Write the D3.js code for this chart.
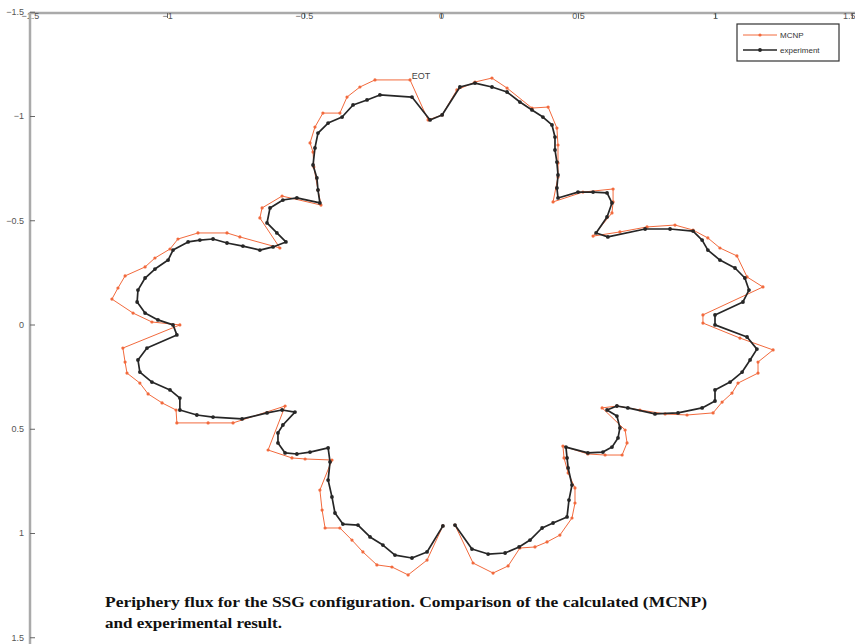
<!DOCTYPE html>
<html>
<head>
<meta charset="utf-8">
<script src="https://cdn.jsdelivr.net/npm/d3@7"></script>
<style>
  body { margin: 0; background: #fff; }
  svg { display: block; }
  .tick text { font-family: "Liberation Sans", Arial, sans-serif; font-size: 9px; fill: #555; }
</style>
</head>
<body>
<svg width="855" height="644"></svg>
<script>
// tick values and series names
var xTicks = [-1.5, -1, -0.5, 0, 0.5, 1, 1.5];
var yTicks = [-1.5, -1, -0.5, 0, 0.5, 1, 1.5];
var seriesNames = ["MCNP", "experiment"];

// MCNP (calculated) periphery flux
var mcnpX = [0.051, 0.117, 0.190, 0.245, 0.288, 0.343, 0.387, 0.434, 0.478, 0.489,
  0.489, 0.464, 0.449, 0.445, 0.536, 0.599, 0.661, 0.679, 0.672, 0.588,
  0.642, 0.726, 0.818, 0.898, 0.993, 1.026, 1.062, 1.084, 1.157, 1.157,
  1.212, 1.091, 0.956, 0.956, 1.175, 1.117, 1.080, 1.018, 0.974, 0.920,
  0.854, 0.752, 0.653, 0.555, 0.624, 0.628, 0.628, 0.518, 0.409, 0.427,
  0.427, 0.427, 0.423, 0.391, 0.332, 0.241, 0.186, 0.124, 0.058, 0.004,
  -0.047, -0.113, -0.241, -0.296, -0.343, -0.369, -0.431, -0.460, -0.478, -0.467,
  -0.464, -0.449, -0.438, -0.580, -0.653, -0.661, -0.588, -0.734, -0.781, -0.887,
  -0.960, -0.989, -1.044, -1.080, -1.153, -1.179, -1.201, -1.124, -1.055, -0.953,
  -1.161, -1.153, -1.146, -1.099, -1.069, -1.018, -0.967, -0.964, -0.850, -0.759,
  -0.569, -0.631, -0.544, -0.496, -0.398, -0.442, -0.434, -0.423, -0.369, -0.325,
  -0.285, -0.234, -0.179, -0.120, -0.051, 0.007];
var mcnpY = [0.962, 1.144, 1.192, 1.158, 1.072, 1.067, 1.043, 1.010, 0.928, 0.856,
  0.784, 0.712, 0.640, 0.583, 0.621, 0.626, 0.626, 0.568, 0.506, 0.400,
  0.391, 0.410, 0.429, 0.434, 0.424, 0.372, 0.329, 0.281, 0.233, 0.180,
  0.122, 0.065, -0.007, -0.046, -0.180, -0.228, -0.329, -0.367, -0.415, -0.453,
  -0.477, -0.468, -0.444, -0.424, -0.535, -0.588, -0.650, -0.635, -0.588, -0.707,
  -0.775, -0.861, -0.942, -1.043, -1.038, -1.134, -1.182, -1.163, -1.125, -1.005,
  -0.981, -1.173, -1.173, -1.139, -1.091, -1.014, -1.014, -0.947, -0.871, -0.827,
  -0.755, -0.645, -0.573, -0.616, -0.559, -0.511, -0.367, -0.420, -0.439, -0.439,
  -0.410, -0.362, -0.319, -0.276, -0.233, -0.175, -0.122, -0.055, -0.012, 0.002,
  0.113, 0.180, 0.233, 0.281, 0.333, 0.376, 0.410, 0.472, 0.472, 0.472,
  0.391, 0.602, 0.640, 0.645, 0.650, 0.794, 0.890, 0.976, 0.976, 1.034,
  1.091, 1.153, 1.163, 1.201, 1.130, 0.966];

// experiment
var expX = [0.051, 0.113, 0.172, 0.234, 0.285, 0.325, 0.369, 0.409, 0.460, 0.467,
  0.478, 0.464, 0.460, 0.456, 0.536, 0.591, 0.624, 0.646, 0.653, 0.642,
  0.606, 0.642, 0.682, 0.781, 0.865, 0.953, 1.000, 1.000, 1.055, 1.099,
  1.128, 1.153, 1.117, 1.000, 1.000, 1.102, 1.124, 1.109, 1.073, 1.018,
  0.974, 0.953, 0.920, 0.836, 0.745, 0.609, 0.566, 0.606, 0.624, 0.606,
  0.555, 0.500, 0.427, 0.423, 0.427, 0.423, 0.416, 0.416, 0.405, 0.372,
  0.332, 0.288, 0.241, 0.186, 0.124, 0.069, 0.004, -0.040, -0.106, -0.223,
  -0.270, -0.321, -0.361, -0.412, -0.449, -0.460, -0.467, -0.453, -0.449, -0.442,
  -0.526, -0.577, -0.624, -0.635, -0.599, -0.566, -0.613, -0.661, -0.723, -0.781,
  -0.832, -0.880, -0.923, -0.978, -0.996, -1.044, -1.080, -1.106, -1.109, -1.080,
  -1.033, -0.978, -0.964, -1.073, -1.106, -1.099, -1.055, -0.989, -0.953, -0.953,
  -0.891, -0.832, -0.726, -0.635, -0.580, -0.533, -0.577, -0.595, -0.595, -0.569,
  -0.526, -0.478, -0.412, -0.405, -0.412, -0.398, -0.387, -0.358, -0.303, -0.259,
  -0.212, -0.168, -0.106, -0.051, 0.007];
var expY = [0.962, 1.077, 1.101, 1.096, 1.067, 1.034, 0.976, 0.952, 0.923, 0.842,
  0.770, 0.688, 0.640, 0.588, 0.616, 0.612, 0.588, 0.544, 0.496, 0.439,
  0.410, 0.391, 0.400, 0.429, 0.424, 0.400, 0.367, 0.314, 0.276, 0.228,
  0.170, 0.118, 0.060, 0.002, -0.046, -0.108, -0.165, -0.223, -0.271, -0.309,
  -0.357, -0.405, -0.448, -0.458, -0.458, -0.420, -0.439, -0.516, -0.583, -0.631,
  -0.635, -0.635, -0.607, -0.655, -0.717, -0.779, -0.837, -0.899, -0.957, -0.995,
  -1.029, -1.067, -1.115, -1.139, -1.158, -1.139, -1.005, -0.981, -1.091, -1.101,
  -1.077, -1.053, -0.995, -0.966, -0.918, -0.847, -0.765, -0.703, -0.645, -0.583,
  -0.607, -0.597, -0.559, -0.487, -0.439, -0.396, -0.372, -0.357, -0.376, -0.391,
  -0.410, -0.405, -0.396, -0.357, -0.309, -0.266, -0.223, -0.165, -0.108, -0.055,
  -0.022, 0.002, 0.050, 0.113, 0.170, 0.228, 0.276, 0.314, 0.353, 0.410,
  0.434, 0.444, 0.453, 0.424, 0.410, 0.420, 0.482, 0.520, 0.568, 0.616,
  0.621, 0.612, 0.592, 0.659, 0.746, 0.827, 0.904, 0.957, 0.962, 1.019,
  1.058, 1.106, 1.120, 1.091, 0.966];

var svg = d3.select("svg");

var x = d3.scaleLinear().domain([-1.5, 1.5]).range([30, 852]);
var y = d3.scaleLinear().domain([-1.5, 1.5]).range([11.75, 637.25]); // reversed: -1.5 on top

var orange = "#f26a3d", dark = "#262626";

// axes (MATLAB style, inner ticks, top + left)
var xAxis = svg.append("g")
  .attr("transform", "translate(0,13)")
  .call(d3.axisTop(x).tickValues(xTicks).tickSizeInner(-5).tickSizeOuter(0)
    .tickFormat(function(d) { return d3.format("")(d); }));
xAxis.select(".domain").attr("stroke", "#aaa").attr("stroke-width", 2.5).attr("d", "M30,0H855");
xAxis.selectAll(".tick line").attr("stroke", "#666");
xAxis.selectAll(".tick text").attr("y", 3).attr("dy", "0.32em")
  .attr("text-anchor", function(d) { return d === 1.5 ? "end" : "middle"; })
  .attr("x", function(d) { return d === 1.5 ? 3 : 0; });

var yAxis = svg.append("g")
  .attr("transform", "translate(30,0)")
  .call(d3.axisLeft(y).tickValues(yTicks).tickSizeInner(-5).tickSizeOuter(0)
    .tickFormat(function(d) { return d3.format("")(d); }));
yAxis.select(".domain").attr("stroke", "#aaa").attr("stroke-width", 2.5).attr("d", "M0,12V644");
yAxis.selectAll(".tick line").attr("stroke", "#666");
yAxis.selectAll(".tick text").attr("x", -6);

function pts(xs, ys) {
  return xs.map(function(d, i) { return [d, ys[i]]; });
}

var line = d3.line()
  .x(function(d) { return x(d[0]); })
  .y(function(d) { return y(d[1]); });

var series = [
  { name: seriesNames[0], data: pts(mcnpX, mcnpY), color: orange, width: 1, r: 1.6 },
  { name: seriesNames[1], data: pts(expX, expY), color: dark, width: 1.7, r: 1.9 }
];

series.forEach(function(s) {
  svg.append("path")
    .datum(s.data)
    .attr("d", line)
    .attr("fill", "none")
    .attr("stroke", s.color)
    .attr("stroke-width", s.width)
    .attr("stroke-linejoin", "round");

  svg.append("g").selectAll("circle")
    .data(s.data)
    .enter().append("circle")
    .attr("cx", function(d) { return x(d[0]); })
    .attr("cy", function(d) { return y(d[1]); })
    .attr("r", s.r)
    .attr("fill", s.color);
});

// label at the top of the curve
svg.append("text")
  .attr("x", 421)
  .attr("y", 79)
  .attr("text-anchor", "middle")
  .style("font-family", "Liberation Sans, Arial, sans-serif")
  .style("font-size", "9px")
  .style("fill", "#444")
  .text("EOT");

// legend
var legend = svg.append("g").attr("transform", "translate(737,24)");
legend.append("rect")
  .attr("x", 0).attr("y", 0)
  .attr("width", 102).attr("height", 37)
  .attr("fill", "#fff")
  .attr("stroke", "#333")
  .attr("stroke-width", 1.2);

var items = legend.selectAll(".legend")
  .data(series)
  .enter().append("g")
  .attr("class", "legend")
  .attr("transform", function(d, i) { return "translate(0," + (11 + i * 15) + ")"; });

items.append("line")
  .attr("x1", 6).attr("x2", 40)
  .attr("stroke", function(d) { return d.color; })
  .attr("stroke-width", function(d) { return d.width; });
items.append("circle")
  .attr("cx", 23).attr("r", function(d) { return d.r; })
  .attr("fill", function(d) { return d.color; });
items.append("text")
  .attr("x", 43).attr("y", 3)
  .style("font-family", "Liberation Sans, Arial, sans-serif")
  .style("font-size", "8px")
  .style("fill", "#333")
  .text(function(d) { return d.name; });

// caption
var caption = svg.append("g")
  .style("font-family", "Liberation Serif, Times New Roman, serif")
  .style("font-weight", "bold")
  .style("font-size", "15px")
  .style("fill", "#111");
caption.append("text")
  .attr("x", 105).attr("y", 607)
  .attr("textLength", 602)
  .attr("lengthAdjust", "spacingAndGlyphs")
  .text("Periphery flux for the SSG configuration. Comparison of the calculated (MCNP)");
caption.append("text")
  .attr("x", 105).attr("y", 628)
  .attr("textLength", 177)
  .attr("lengthAdjust", "spacingAndGlyphs")
  .text("and experimental result.");
</script>
</body>
</html>
